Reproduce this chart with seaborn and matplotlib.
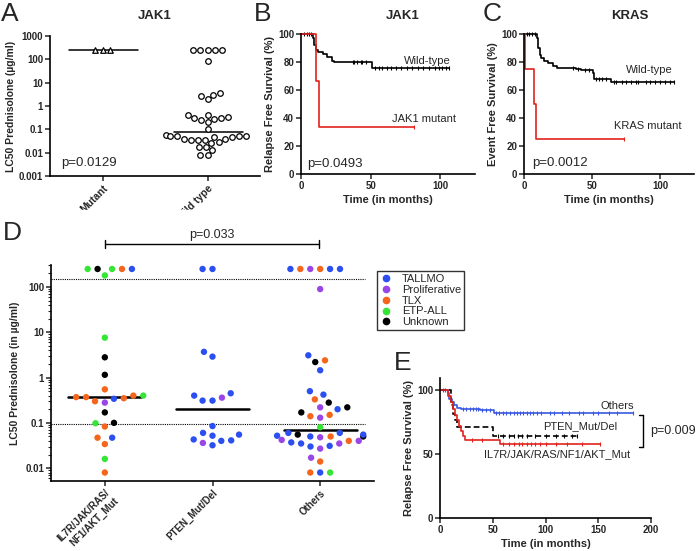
import numpy as np
import pandas as pd
import seaborn as sns
import matplotlib.pyplot as plt
from matplotlib.lines import Line2D
from matplotlib.patches import Rectangle
from matplotlib.ticker import NullLocator, LogLocator, NullFormatter

# ---- panel A: LC50 by JAK1 status ----
jak1_groups = ["Mutant", "Wild type"]
jak1_mutant_lc50 = [250, 250, 250]
jak1_wt_lc50 = [250, 250, 250, 250, 250, 85,
                3.5, 2.8, 2.0, 3.0,
                0.4, 0.32, 0.25, 0.3, 0.35, 0.42, 0.28, 0.2, 0.1,
                0.055, 0.05, 0.048, 0.052, 0.05, 0.046, 0.05,
                0.037, 0.035, 0.036, 0.034, 0.038,
                0.026, 0.028, 0.018, 0.017, 0.013, 0.008, 0.008]

# ---- panels B / C: Kaplan-Meier curves ----
b_wt_t = [0, 8.6, 9.5, 11, 12.5, 16, 19, 22, 24, 51, 106]
b_wt_s = [100, 97, 92, 88.5, 87.4, 85.5, 83.3, 81, 80, 76, 76]
b_wt_cens = [2, 4, 6, 7, 37, 38, 40, 43, 44, 47, 53, 56, 58, 62, 65, 68,
             72, 76, 80, 84, 88, 92, 96, 99, 101, 104, 106]
b_mut_t = [0, 10.5, 13, 81]
b_mut_s = [100, 66.7, 33.3, 33.3]
b_mut_cens = [81]

c_wt_t = [0, 9.5, 10.5, 11.5, 12.7, 15, 17.5, 21, 24, 38, 42, 50.5, 51.7, 64, 110]
c_wt_s = [100, 97, 90, 85, 83, 81, 79, 77, 76, 75, 74, 72, 68, 66, 66]
c_wt_cens = [2, 4, 6, 8, 36, 40, 45, 48, 53, 55, 57, 60, 66, 68, 72, 75, 79,
             82, 84, 90, 93, 96, 100, 104, 107, 110]
c_mut_t = [0, 1, 7, 8.5, 73.5]
c_mut_s = [100, 75, 50, 25, 25]
c_mut_cens = [73.5]

# ---- panel D: LC50 by genetic group, coloured by subtype ----
d_groups = ["IL7R/JAK/RAS/\nNF1/AKT_Mut", "PTEN_Mut/Del", "Others"]
subtypes = ["TALLMO", "Proliferative", "TLX", "ETP-ALL", "Unknown"]
subtype_colors = ["#2b4ff0", "#9a45e6", "#f5661c", "#35e535", "#000000"]

il7r_lc50 = [250, 250, 180, 250, 250, 250, 7.6, 2.8, 1.15, 0.55,
             0.4, 0.37, 0.35, 0.3, 0.28, 0.34, 0.37, 0.4,
             0.17, 0.098, 0.1, 0.083, 0.047, 0.047, 0.034, 0.016, 0.008]
il7r_type = ["ETP-ALL", "TLX", "ETP-ALL", "ETP-ALL", "Unknown", "TALLMO",
             "ETP-ALL", "Unknown", "Unknown", "TLX",
             "TLX", "TLX", "TLX", "TLX", "Proliferative", "TALLMO", "TLX", "ETP-ALL",
             "Unknown", "ETP-ALL", "Unknown", "TLX", "TLX", "TALLMO", "TLX",
             "ETP-ALL", "TLX"]
pten_lc50 = [250, 250, 3.7, 2.9, 0.45, 0.36, 0.31, 0.31, 0.4,
             0.085, 0.055, 0.052, 0.06, 0.043, 0.04, 0.041, 0.032, 0.036]
pten_type = ["TALLMO", "TALLMO", "TALLMO", "TALLMO", "TALLMO", "Proliferative",
             "TALLMO", "TALLMO", "TALLMO", "TALLMO", "TALLMO", "TALLMO", "TALLMO",
             "TALLMO", "TALLMO", "TALLMO", "TALLMO", "Proliferative"]
others_lc50 = [250, 250, 250, 250, 250, 250, 90,
               3.1, 2.2, 2.4, 1.45,
               0.5, 0.42, 0.33, 0.28, 0.22, 0.2, 0.22, 0.17, 0.15, 0.14, 0.13,
               0.08, 0.06, 0.055, 0.05, 0.05, 0.05, 0.048, 0.052, 0.055, 0.06,
               0.042, 0.04, 0.035, 0.031, 0.027, 0.03, 0.035, 0.037, 0.04,
               0.017, 0.014, 0.008, 0.008, 0.008]
others_type = ["Proliferative", "TLX", "TALLMO", "TALLMO", "TALLMO", "TLX", "Proliferative",
               "TALLMO", "Unknown", "TLX", "TALLMO",
               "TALLMO", "TALLMO", "TLX", "Unknown", "Proliferative", "TALLMO", "Unknown",
               "Unknown", "TLX", "TLX", "Proliferative",
               "ETP-ALL", "TALLMO", "Unknown", "Unknown", "TLX", "TALLMO", "Proliferative",
               "TALLMO", "TALLMO", "TALLMO",
               "Proliferative", "TLX", "Proliferative", "TALLMO", "Proliferative", "TALLMO",
               "TALLMO", "TALLMO", "Proliferative",
               "Proliferative", "TLX", "TLX", "ETP-ALL", "TALLMO"]
d_cutoffs = [150, 0.095]

# ---- panel E: relapse free survival by group ----
e_oth_t = [0, 7.5, 9, 11, 13, 16, 20, 38, 51, 183]
e_oth_s = [100, 97, 93, 90, 88, 86, 85, 84, 81.5, 81.5]
e_oth_cens = [3, 5, 22, 25, 28, 31, 34, 36, 40, 44, 47, 53, 56, 60, 63, 66, 70,
              73, 76, 79, 82, 85, 88, 92, 96, 104, 108, 116, 122, 132, 136, 145,
              150, 160, 168, 183]
e_pten_t = [0, 10, 12, 14, 16, 50, 130]
e_pten_s = [100, 88, 81, 76, 71, 64, 64]
e_pten_cens = [55, 60, 65, 70, 74, 78, 82, 90, 100, 110, 118, 125, 130]
e_il7r_t = [0, 8, 10, 12, 14, 16, 18, 20, 22, 24, 57, 152]
e_il7r_s = [100, 95, 90, 85, 80, 76, 72, 68, 64, 61, 57.5, 57.5]
e_il7r_cens = [30, 40, 60, 65, 70, 75, 78, 82, 86, 90, 95, 100, 110, 120, 135, 152]

W, H = 700, 551
RED = "#e3221c"
TICK_FS = 7
LABEL_FS = 8


def box(left, top, right, bottom):
    return [left / W, 1 - bottom / H, (right - left) / W, (bottom - top) / H]


def fx(x):
    return x / W


def fy(y):
    return 1 - y / H


def style_axis(ax):
    sns.despine(ax=ax)
    for s in ["left", "bottom"]:
        ax.spines[s].set_linewidth(1.2)
    ax.tick_params(width=1.1, length=3.5, pad=1.5)


def km_curve(ax, t, s, cens, color, ls="-"):
    sns.lineplot(x=t, y=s, drawstyle="steps-post", estimator=None, sort=False,
                 color=color, lw=1.2, linestyle=ls, ax=ax, clip_on=False)
    idx = np.searchsorted(t, cens, side="right") - 1
    ax.plot(cens, np.asarray(s)[idx], ls="none", marker="|", ms=3.2, mew=0.8,
            color=color, clip_on=False)


sns.set_style("ticks")
plt.rcParams["font.family"] = ["Liberation Sans", "DejaVu Sans"]
plt.rcParams["axes.edgecolor"] = "black"

fig = plt.figure(figsize=(7, 5.51), dpi=100)

# ---------------- A ----------------
ax = fig.add_axes(box(50, 36, 260, 176))
ax.set_yscale("log")
ax.set_ylim(0.001, 1000)
ax.set_xlim(-0.5, 1.5)
df_a = pd.DataFrame({
    "group": ["Mutant"] * len(jak1_mutant_lc50) + ["Wild type"] * len(jak1_wt_lc50),
    "lc50": jak1_mutant_lc50 + jak1_wt_lc50,
})
sns.swarmplot(data=df_a[df_a.group == "Mutant"], x="group", y="lc50", order=jak1_groups,
              marker="^", color="white", edgecolor="black", linewidth=0.9, size=4.0, ax=ax)
sns.swarmplot(data=df_a[df_a.group == "Wild type"], x="group", y="lc50", order=jak1_groups,
              marker="o", color="white", edgecolor="black", linewidth=0.9, size=4.0, ax=ax)
for i, vals in enumerate([jak1_mutant_lc50, jak1_wt_lc50]):
    ax.plot([i - 0.32, i + 0.34], [np.median(vals)] * 2, color="black", lw=1.1)
ax.set_xlim(-0.5, 1.5)
ax.set_ylim(0.001, 1000)
ax.set_yticks([0.001, 0.01, 0.1, 1, 10, 100, 1000],
              ["0.001", "0.01", "0.1", "1", "10", "100", "1000"],
              fontsize=TICK_FS, fontweight="bold")
ax.yaxis.set_minor_locator(NullLocator())
ax.set_xticks([0, 1], jak1_groups, rotation=45, ha="right", rotation_mode="anchor",
              fontsize=7.5, fontweight="bold")
ax.set_xlabel("")
ax.set_ylabel("LC50 Prednisolone (µg/ml)", fontsize=7.5, fontweight="bold", labelpad=2)
style_axis(ax)
fig.text(fx(61), fy(163), "p=0.0129", fontsize=9.5, va="center")
fig.text(fx(155), fy(16), "JAK1", fontsize=9.5, fontweight="bold", ha="center", va="center")

# ---------------- B ----------------
ax = fig.add_axes(box(301, 34, 475, 174))
km_curve(ax, b_wt_t, b_wt_s, b_wt_cens, "black")
km_curve(ax, b_mut_t, b_mut_s, b_mut_cens, RED)
ax.set_xlim(0, 125)
ax.set_ylim(0, 100)
ax.set_xticks([0, 50, 100], ["0", "50", "100"], fontsize=TICK_FS, fontweight="bold")
ax.set_yticks([0, 20, 40, 60, 80, 100], ["0", "20", "40", "60", "80", "100"],
              fontsize=TICK_FS, fontweight="bold")
ax.set_xlabel("Time (in months)", fontsize=LABEL_FS, fontweight="bold", labelpad=3)
ax.set_ylabel("Relapse Free Survival (%)", fontsize=LABEL_FS, fontweight="bold", labelpad=2)
style_axis(ax)
fig.text(fx(451), fy(61), "Wild-type", fontsize=8, ha="right", va="center")
fig.text(fx(456), fy(119), "JAK1 mutant", fontsize=8, ha="right", va="center")
fig.text(fx(307), fy(164), "p=0.0493", fontsize=9.5, va="center")
fig.text(fx(403), fy(16), "JAK1", fontsize=9.5, fontweight="bold", ha="center", va="center")

# ---------------- C ----------------
ax = fig.add_axes(box(524, 34, 694, 174))
km_curve(ax, c_wt_t, c_wt_s, c_wt_cens, "black")
km_curve(ax, c_mut_t, c_mut_s, c_mut_cens, RED)
ax.set_xlim(0, 125)
ax.set_ylim(0, 100)
ax.set_xticks([0, 50, 100], ["0", "50", "100"], fontsize=TICK_FS, fontweight="bold")
ax.set_yticks([0, 20, 40, 60, 80, 100], ["0", "20", "40", "60", "80", "100"],
              fontsize=TICK_FS, fontweight="bold")
ax.set_xlabel("Time (in months)", fontsize=LABEL_FS, fontweight="bold", labelpad=3)
ax.set_ylabel("Event Free Survival (%)", fontsize=LABEL_FS, fontweight="bold", labelpad=2)
style_axis(ax)
fig.text(fx(673), fy(70), "Wild-type", fontsize=8, ha="right", va="center")
fig.text(fx(682), fy(126), "KRAS mutant", fontsize=8, ha="right", va="center")
fig.text(fx(532), fy(163), "p=0.0012", fontsize=9.5, va="center")
fig.text(fx(630), fy(16), "KRAS", fontsize=9.5, fontweight="bold", ha="center", va="center")

# ---------------- D ----------------
ax = fig.add_axes(box(51, 265, 374, 481))
ax.set_yscale("log")
ax.set_ylim(0.0052, 306)
ax.set_xlim(-0.5, 2.5)
df_d = pd.DataFrame({
    "group": [d_groups[0]] * len(il7r_lc50) + [d_groups[1]] * len(pten_lc50)
             + [d_groups[2]] * len(others_lc50),
    "lc50": il7r_lc50 + pten_lc50 + others_lc50,
    "subtype": il7r_type + pten_type + others_type,
})
# invisible edge widens the swarm spacing like the original column scatter
sns.swarmplot(data=df_d, x="group", y="lc50", hue="subtype", order=d_groups,
              hue_order=subtypes, palette=dict(zip(subtypes, subtype_colors)),
              size=4.6, edgecolor="none", linewidth=2.2, legend=False, ax=ax, zorder=3)
for i, vals in enumerate([il7r_lc50, pten_lc50, others_lc50]):
    ax.plot([i - 0.34, i + 0.34], [np.median(vals)] * 2, color="black", lw=1.8, zorder=1)
for c in d_cutoffs:
    ax.axhline(c, xmin=0, xmax=0.972, color="black", ls=(0, (1, 1)), lw=0.8, zorder=0)
ax.set_xlim(-0.5, 2.5)
ax.set_ylim(0.0052, 306)
ax.set_yticks([0.01, 0.1, 1, 10, 100], ["0.01", "0.1", "1", "10", "100"],
              fontsize=TICK_FS, fontweight="bold")
ax.yaxis.set_minor_locator(LogLocator(base=10, subs=np.arange(2, 10)))
ax.yaxis.set_minor_formatter(NullFormatter())
ax.tick_params(axis="y", which="minor", length=2, width=0.8)
ax.set_xticks([0, 1, 2], d_groups, rotation=45, ha="right", rotation_mode="anchor",
              fontsize=7, fontweight="bold")
ax.set_xlabel("")
ax.set_ylabel("LC50 Prednisolone (in µg/ml)", fontsize=7.5, fontweight="bold", labelpad=4)
style_axis(ax)
handles = [Line2D([], [], ls="none", marker="o", ms=4.5, color=c) for c in subtype_colors]
leg = fig.legend(handles, subtypes, loc="upper left", bbox_to_anchor=(fx(377), fy(271)),
                 fontsize=8, frameon=True, fancybox=False, edgecolor="black",
                 borderpad=0.25, labelspacing=0.08, handletextpad=0.9, handlelength=1.1,
                 borderaxespad=0)
leg.get_frame().set_linewidth(1.0)

# bracket with p value over D
fig.add_artist(Line2D([fx(105), fx(319)], [fy(244), fy(244)], color="black", lw=1))
for xb in [105, 319]:
    fig.add_artist(Line2D([fx(xb), fx(xb)], [fy(240), fy(248)], color="black", lw=1))
fig.text(fx(212), fy(235), "p=0.033", fontsize=9, ha="center", va="center")

# ---------------- E ----------------
ax = fig.add_axes(box(440, 378, 651, 518))
km_curve(ax, e_oth_t, e_oth_s, e_oth_cens, "#3a57e0")
km_curve(ax, e_pten_t, e_pten_s, e_pten_cens, "black", ls=(0, (3.5, 1.8)))
km_curve(ax, e_il7r_t, e_il7r_s, e_il7r_cens, RED)
ax.set_xlim(0, 200)
ax.set_ylim(0, 109)
ax.set_xticks([0, 50, 100, 150, 200], ["0", "50", "100", "150", "200"],
              fontsize=TICK_FS, fontweight="bold")
ax.set_yticks([0, 50, 100], ["0", "50", "100"], fontsize=TICK_FS, fontweight="bold")
ax.set_xlabel("Time (in months)", fontsize=LABEL_FS, fontweight="bold", labelpad=3)
ax.set_ylabel("Relapse Free Survival (%)", fontsize=LABEL_FS, fontweight="bold", labelpad=2)
style_axis(ax)
fig.text(fx(634), fy(406), "Others", fontsize=8, ha="right", va="center")
fig.text(fx(617), fy(426), "PTEN_Mut/Del", fontsize=8, ha="right", va="center")
fig.text(fx(557), fy(454), "IL7R/JAK/RAS/NF1/AKT_Mut", fontsize=8, ha="center", va="center")
fig.add_artist(Line2D([fx(643), fx(643)], [fy(415), fy(447)], color="black", lw=1))
for yb in [415, 447]:
    fig.add_artist(Line2D([fx(639), fx(643)], [fy(yb), fy(yb)], color="black", lw=1))
fig.text(fx(650), fy(431), "p=0.009", fontsize=9, va="center")

# mask the bottom of panel A's tick labels the way the source figure does
fig.add_artist(Rectangle((0, fy(222)), fx(300), fy(210) - fy(222),
                         transform=fig.transFigure, color="white", zorder=5))

# panel letters
for letter, x, y in [("A", 10, 14), ("B", 263, 14), ("C", 492, 14), ("D", 12, 233), ("E", 403, 363)]:
    fig.text(fx(x), fy(y), letter, fontsize=19, ha="center", va="center", zorder=6)

fig.savefig("out.png", dpi=100, facecolor="white")
